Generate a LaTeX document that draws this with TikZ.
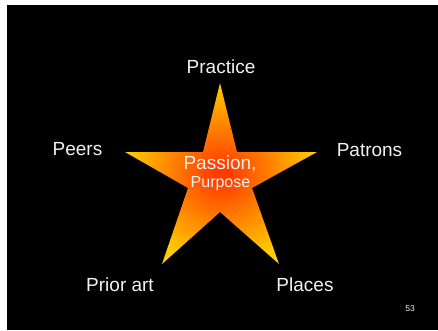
\documentclass[tikz,border=0pt]{standalone}
\usepackage{fontspec}
\setmainfont{Liberation Sans}
\definecolor{starcore}{RGB}{255,60,0}
\definecolor{startip}{RGB}{255,205,0}
\definecolor{labelgray}{RGB}{242,242,242}
\pgfdeclareradialshading{starglow}{\pgfpoint{0bp}{0bp}}{color(0bp)=(starcore); color(2bp)=(starcore); color(25bp)=(startip); color(50bp)=(startip)}
\tikzset{
  lbl/.style={anchor=base,inner sep=0pt,text=labelgray,font=\fontsize{19}{22}\selectfont},
  sublbl/.style={lbl,font=\fontsize{16}{19}\selectfont},
}
\begin{document}
\begin{tikzpicture}[x=1pt,y=-1pt]
\useasboundingbox (0,0) rectangle (438,330);
\fill[white] (0,0) rectangle (438,330);
\fill[black] (7,5) rectangle (438,330);
% star points, outer and inner
\coordinate (top) at (220,83);
\coordinate (itr) at (237,152);
\coordinate (rt) at (317,152);
\coordinate (ir) at (252,188);
\coordinate (br) at (279,264);
\coordinate (ib) at (220,212);
\coordinate (bl) at (162,264);
\coordinate (il) at (188,188);
\coordinate (lt) at (125,152);
\coordinate (itl) at (203,152);
\path[shading=starglow] (top)--(itr)--(rt)--(ir)--(br)--(ib)--(bl)--(il)--(lt)--(itl)--cycle;
\node[lbl] (practice) at (221,73) {Practice};
\node[lbl] (peers) at (77.5,155) {Peers};
\node[lbl] (patrons) at (369.5,156) {Patrons};
\node[lbl] (prior) at (120,291) {Prior art};
\node[lbl] (places) at (305,291) {Places};
\node[lbl,text depth=0pt] (passion) at (220,169.5) {Passion,};
\node[sublbl,text height=11.5pt] (purpose) at (220.5,187) {Purpose};
\node[lbl,font=\fontsize{8.5}{10}\selectfont] (page) at (410,311) {53};
\end{tikzpicture}
\end{document}
